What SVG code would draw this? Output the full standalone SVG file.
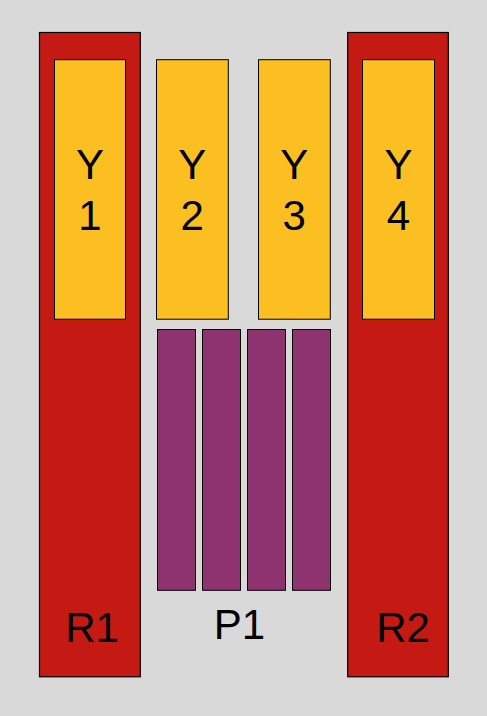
<svg xmlns="http://www.w3.org/2000/svg" width="487" height="716" viewBox="0 0 487 716">
<style>
.r{fill:#c51a14;stroke:#000;stroke-width:1.2}
.y{fill:#fcbf22;stroke:#000;stroke-width:1}
.p{fill:#8e3370;stroke:#000;stroke-width:1}
text{font-family:"Liberation Sans",Arial,sans-serif;font-size:42px;fill:#000;text-anchor:middle}
</style>
<rect width="487" height="716" fill="#d9d9d9"/>
<g id="R1"><rect class="r" x="39.5" y="32.5" width="100.8" height="644.3"/><text x="92" y="641.5">R1</text></g>
<g id="R2"><rect class="r" x="347.7" y="32.5" width="100.6" height="644.3"/><text x="403" y="641.5">R2</text></g>
<g id="Y1"><rect class="y" x="54.5" y="59.7" width="71" height="259.5"/><text x="90" y="179">Y</text><text x="90" y="230">1</text></g>
<g id="Y2"><rect class="y" x="156.5" y="59.7" width="71.8" height="259.5"/><text x="192.3" y="179">Y</text><text x="192.3" y="230">2</text></g>
<g id="Y3"><rect class="y" x="258.5" y="59.7" width="71.8" height="259.5"/><text x="294.3" y="179">Y</text><text x="294.3" y="230">3</text></g>
<g id="Y4"><rect class="y" x="362.5" y="59.7" width="72" height="259.5"/><text x="398.5" y="179">Y</text><text x="398.5" y="230">4</text></g>
<g id="P1">
<rect class="p" x="157.5" y="329.5" width="38" height="260.8"/>
<rect class="p" x="202.5" y="329.5" width="38" height="260.8"/>
<rect class="p" x="247.5" y="329.5" width="38" height="260.8"/>
<rect class="p" x="292.5" y="329.5" width="38" height="260.8"/>
<text x="239.5" y="639">P1</text>
</g>
<g id="connectors"/>
</svg>
